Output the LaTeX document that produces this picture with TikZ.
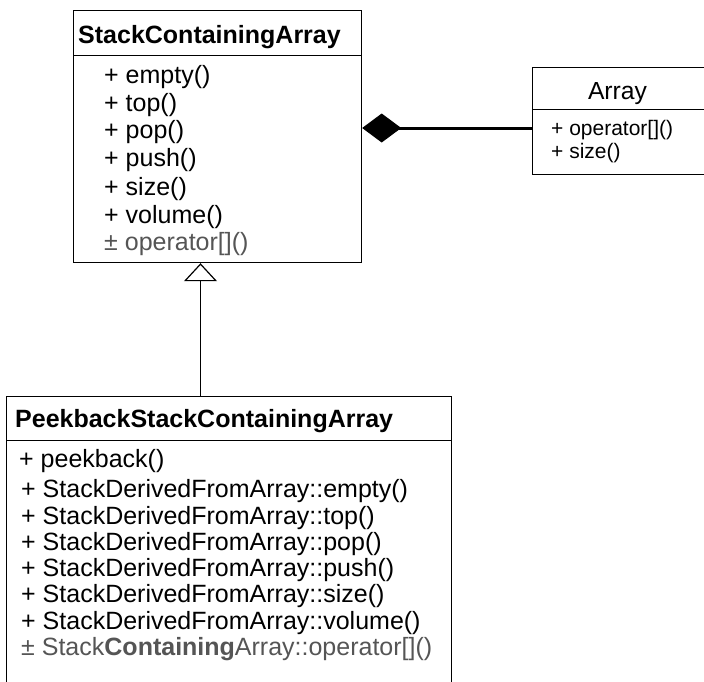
\documentclass[tikz,border=0pt]{standalone}
\usepackage{fontspec}
\setmainfont{Liberation Sans}
\usetikzlibrary{arrows.meta}
\definecolor{opgray}{RGB}{85,85,85}
\begin{document}
\begin{tikzpicture}[x=1pt,y=-1pt,
  box/.style={draw=black,line width=1.2pt,fill=white,inner sep=0pt,anchor=north west},
  txt/.style={anchor=base west,inner sep=0pt,font=\fontsize{25}{30}\selectfont},
  small/.style={anchor=base west,inner sep=0pt,font=\fontsize{21}{25}\selectfont},
  ttl/.style={anchor=base west,inner sep=0pt,font=\fontsize{25}{30}\selectfont\bfseries},
  gry/.style={text=opgray},
  comp/.style={line width=3pt,-{Diamond[length=39pt,width=29pt,line width=1pt,fill=black]}},
  inh/.style={line width=1.2pt,-{Triangle[open,length=18pt,width=33pt,line width=1.2pt,fill=white]}}]
\useasboundingbox (0,0) rectangle (704,681);
% StackContainingArray
\node[box,minimum width=288pt,minimum height=45pt] (schead) at (73,10) {};
\node[box,minimum width=288pt,minimum height=207pt] (scbody) at (73,55) {};
\node[ttl] (sct) at (78,43) {StackContainingArray};
\node[txt] (sc1) at (104,83) {+ empty()};
\node[txt] (sc2) at (104,111) {+ top()};
\node[txt] (sc3) at (104,138) {+ pop()};
\node[txt] (sc4) at (104,166) {+ push()};
\node[txt] (sc5) at (104,195) {+ size()};
\node[txt] (sc6) at (104,223) {+ volume()};
\node[txt,gry] (sc7) at (104,250) {± operator[]()};
% Array
\node[box,minimum width=200pt,minimum height=42pt] (arhead) at (532,67) {};
\node[box,minimum width=200pt,minimum height=65pt] (arbody) at (532,109) {};
\node[anchor=base,inner sep=0pt,font=\fontsize{24.7}{30}\selectfont] (art) at (617.5,99) {Array};
\node[small] (ar1) at (551,135) {+ operator[]()};
\node[small] (ar2) at (551,158) {+ size()};
% PeekbackStackContainingArray
\node[box,minimum width=445pt,minimum height=44pt] (pkhead) at (6,396) {};
\node[box,minimum width=445pt,minimum height=260pt] (pkbody) at (6,440) {};
\node[ttl] (pkt) at (15,427) {PeekbackStackContainingArray};
\node[txt] (pk1) at (19,467) {+ peekback()};
\node[txt] (pk2) at (21,497) {+ StackDerivedFromArray::empty()};
\node[txt] (pk3) at (21,524) {+ StackDerivedFromArray::top()};
\node[txt] (pk4) at (21,550) {+ StackDerivedFromArray::pop()};
\node[txt] (pk5) at (21,576) {+ StackDerivedFromArray::push()};
\node[txt] (pk6) at (21,602) {+ StackDerivedFromArray::size()};
\node[txt] (pk7) at (21,629) {+ StackDerivedFromArray::volume()};
\node[txt,gry] (pk8) at (21,655) {± Stack\textbf{Containing}Array::operator[]()};
% connectors
\coordinate (compA) at (532,128);
\draw[comp] (compA) -- (compA -| scbody.east);
\coordinate (inhA) at (200.5,396);
\draw[inh] (inhA) -- (inhA |- scbody.south);
\end{tikzpicture}
\end{document}
